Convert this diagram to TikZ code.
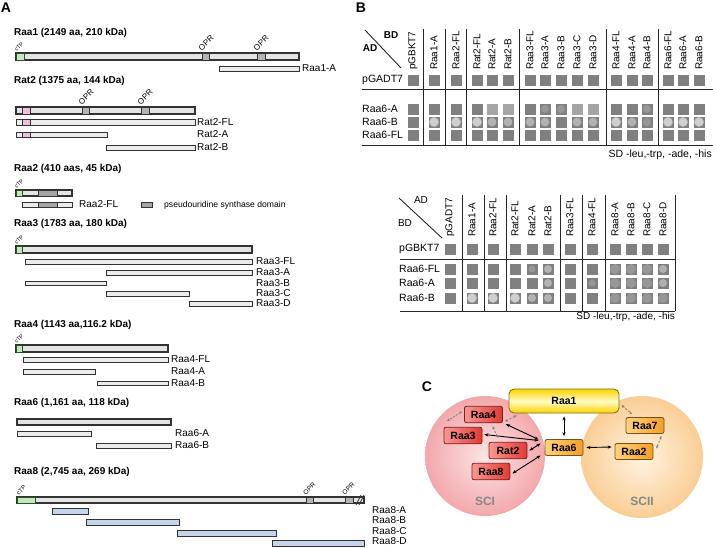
\documentclass[tikz,border=0pt]{standalone}
\usepackage{fontspec}
\setmainfont{Liberation Sans}
\usepackage{xcolor}
\usepackage{tikz}
\usetikzlibrary{arrows.meta}
\definecolor{barfill}{RGB}{228,228,228}
\definecolor{fragfill}{RGB}{236,236,236}
\definecolor{barline}{RGB}{50,50,50}
\definecolor{ctpgreen}{RGB}{196,232,190}
\definecolor{ctpline}{RGB}{40,85,40}
\definecolor{oprfill}{RGB}{180,180,180}
\definecolor{pinkdom}{RGB}{238,192,222}
\definecolor{psifill}{RGB}{165,165,165}
\definecolor{raa8blue}{RGB}{198,212,236}
\definecolor{plategray}{RGB}{128,128,128}
\definecolor{palegray}{RGB}{165,165,165}
\definecolor{colonystrong}{RGB}{208,208,208}
\definecolor{colonymid}{RGB}{178,178,178}
\definecolor{colonyfaint}{RGB}{150,150,150}
\definecolor{scipink}{RGB}{243,168,172}
\definecolor{scipale}{RGB}{252,228,228}
\definecolor{sciipeach}{RGB}{250,206,148}
\definecolor{sciipale}{RGB}{255,243,226}
\definecolor{redlight}{RGB}{250,150,145}
\definecolor{reddeep}{RGB}{226,58,52}
\definecolor{redline}{RGB}{115,35,35}
\definecolor{orangelight}{RGB}{255,212,125}
\definecolor{orangedeep}{RGB}{244,158,38}
\definecolor{orangeline}{RGB}{120,80,25}
\definecolor{yellowdeep}{RGB}{250,212,0}
\definecolor{yellowlight}{RGB}{255,250,195}
\definecolor{yellowline}{RGB}{125,110,20}
\definecolor{sctext}{RGB}{135,135,135}

\begin{document}
\begin{tikzpicture}[x=1pt,y=-1pt,
    panellbl/.style={inner sep=0pt,font=\fontsize{14}{14}\selectfont\bfseries},
    prottitle/.style={anchor=west,inner sep=0pt,font=\fontsize{10}{10}\selectfont\bfseries},
    fraglbl/.style={anchor=west,inner sep=0pt,font=\fontsize{10}{10}\selectfont},
    tiltlbl/.style={anchor=south west,rotate=45,inner sep=0pt,font=\fontsize{8}{8}\selectfont},
    ctplbl/.style={tiltlbl,font=\fontsize{5.5}{5.5}\selectfont},
    mainbar/.style={fill=barfill,draw=barline,line width=1.1pt},
    fragbar/.style={fill=fragfill,draw=barline,line width=0.9pt},
    bluebar/.style={fill=raa8blue,draw=barline,line width=0.9pt},
    ctpbox/.style={fill=ctpgreen,draw=ctpline,line width=0.8pt},
    oprbox/.style={fill=oprfill,draw=barline,line width=0.8pt},
    pinkbox/.style={fill=pinkdom,draw=barline,line width=0.8pt},
    psibox/.style={fill=psifill,draw=barline,line width=0.8pt},
    gridline/.style={draw=black!85,line width=0.9pt},
    colhead/.style={rotate=90,anchor=west,inner sep=0pt,font=\fontsize{10}{10}\selectfont},
    rowhead/.style={anchor=west,inner sep=0pt,font=\fontsize{10.5}{10.5}\selectfont},
    cornerlbl/.style={inner sep=0pt,font=\fontsize{10}{10}\selectfont\bfseries},
    medialbl/.style={inner sep=0pt,font=\fontsize{10.5}{10.5}\selectfont},
    plate/.style={fill=plategray},
    paleplate/.style={fill=palegray},
    colony/.style={fill=colonystrong,draw=colonymid,line width=0.4pt},
    midcolony/.style={fill=colonymid},
    weakcolony/.style={fill=colonyfaint},
    redbox/.style={draw=redline,line width=0.8pt,rounded corners=2pt,left color=redlight,right color=reddeep,
        minimum width=38pt,minimum height=16.5pt,inner sep=0pt,font=\fontsize{10.5}{10.5}\selectfont\bfseries},
    orbox/.style={draw=orangeline,line width=0.8pt,rounded corners=2pt,left color=orangelight,right color=orangedeep,
        minimum width=38pt,minimum height=16pt,inner sep=0pt,font=\fontsize{10.5}{10.5}\selectfont\bfseries},
    yelbox/.style={draw=yellowline,line width=0.8pt,rounded corners=5pt,top color=yellowdeep,bottom color=yellowdeep,
        middle color=yellowlight,minimum width=110pt,minimum height=24pt,inner sep=0pt,font=\fontsize{10.5}{10.5}\selectfont\bfseries},
    sclbl/.style={inner sep=0pt,text=sctext,font=\fontsize{12}{12}\selectfont\bfseries},
    bind/.style={{Stealth[length=4pt,width=3.2pt]}-{Stealth[length=4pt,width=3.2pt]},black,line width=0.9pt},
    maybe/.style={{Stealth[length=3pt,width=2.6pt]}-{Stealth[length=3pt,width=2.6pt]},gray,line width=0.8pt,dash pattern=on 2pt off 1.5pt}
]
\useasboundingbox (0,0) rectangle (713,547);

% ---------------- Panel A: domain maps ----------------
\node[panellbl] (labA) at (6,8) {A};

% Raa1
\node[prottitle] (tRaa1) at (14,33) {Raa1 (2149 aa, 210 kDa)};
\draw[mainbar] (16,53) rectangle (299,60);
\draw[ctpbox] (16,53) rectangle (24,60);
\draw[oprbox] (202,53) rectangle (209,60);
\draw[oprbox] (257,53) rectangle (265,60);
\node[ctplbl] (cRaa1) at (17,52) {cTP};
\node[tiltlbl] (oaRaa1) at (202,51.5) {OPR};
\node[tiltlbl] (obRaa1) at (257,51.5) {OPR};
\draw[fragbar] (219,66) rectangle (299,71);
\node[fraglbl] (fRaa1A) at (302,68.5) {Raa1-A};

% Rat2
\node[prottitle] (tRat2) at (14,81) {Rat2 (1375 aa, 144 kDa)};
\draw[mainbar] (16,107) rectangle (195,114);
\draw[pinkbox] (22,107) rectangle (30,114);
\draw[oprbox] (82,107) rectangle (89,114);
\draw[oprbox] (141,107) rectangle (149,114);
\node[tiltlbl] (oaRat2) at (82,105.5) {OPR};
\node[tiltlbl] (obRat2) at (141,105.5) {OPR};
\draw[fragbar] (16,119) rectangle (195,125);
\draw[pinkbox] (22,119) rectangle (30,125);
\node[fraglbl] (fRat2FL) at (197,122) {Rat2-FL};
\draw[fragbar] (16,132) rectangle (107,137);
\draw[pinkbox] (22,132) rectangle (30,137);
\node[fraglbl] (fRat2A) at (197,134.5) {Rat2-A};
\draw[fragbar] (106,145) rectangle (195,150);
\node[fraglbl] (fRat2B) at (197,147.5) {Rat2-B};

% Raa2
\node[prottitle] (tRaa2) at (14,169) {Raa2 (410 aas, 45 kDa)};
\draw[mainbar] (16,190) rectangle (72,196);
\draw[ctpbox] (16,190) rectangle (22,196);
\draw[psibox] (38,190) rectangle (57,196);
\node[ctplbl] (cRaa2) at (17,189) {cTP};
\draw[fragbar] (22,202) rectangle (72,207);
\draw[psibox] (38,202) rectangle (57,207);
\node[fraglbl] (fRaa2FL) at (79,204.5) {Raa2-FL};
\draw[psibox] (141,202) rectangle (152,207);
\node[anchor=west,inner sep=0pt,font=\fontsize{8.6}{8.6}\selectfont] (psiKey) at (164,205) {pseudouridine synthase domain};

% Raa3
\node[prottitle] (tRaa3) at (14,224) {Raa3 (1783 aa, 180 kDa)};
\draw[mainbar] (16,246) rectangle (252,253);
\draw[ctpbox] (16,246) rectangle (22,253);
\node[ctplbl] (cRaa3) at (17,245) {cTP};
\foreach \xa/\ya/\xb/\yb/\name [count=\i] in {25/259/252/264/Raa3-FL,106/270/252/275/Raa3-A,
    25/281/106/285/Raa3-B,106/291/189/296/Raa3-C,189/301/252/306/Raa3-D} {
  \draw[fragbar] (\xa,\ya) rectangle (\xb,\yb);
  \node[fraglbl] (fRaa3\i) at (256,{(\ya+\yb)/2}) {\name};
}

% Raa4
\node[prottitle] (tRaa4) at (14,325) {Raa4 (1143 aa,116.2 kDa)};
\draw[mainbar] (16,345) rectangle (168,352);
\draw[ctpbox] (16,345) rectangle (22,352);
\node[ctplbl] (cRaa4) at (17,344) {cTP};
\foreach \xa/\ya/\xb/\yb/\name [count=\i] in {23/357/168/362/Raa4-FL,23/369/95/374/Raa4-A,97/381/168/385/Raa4-B} {
  \draw[fragbar] (\xa,\ya) rectangle (\xb,\yb);
  \node[fraglbl] (fRaa4\i) at (171,{(\ya+\yb)/2}) {\name};
}

% Raa6
\node[prottitle] (tRaa6) at (14,403) {Raa6 (1,161 aa, 118 kDa)};
\draw[mainbar] (17,419) rectangle (171,425);
\foreach \xa/\ya/\xb/\yb/\name [count=\i] in {17/431/91/436/Raa6-A,96/443/171/448/Raa6-B} {
  \draw[fragbar] (\xa,\ya) rectangle (\xb,\yb);
  \node[fraglbl] (fRaa6\i) at (175,{(\ya+\yb)/2}) {\name};
}

% Raa8
\node[prottitle] (tRaa8) at (14,472) {Raa8 (2,745 aa, 269 kDa)};
\draw[mainbar] (17,497) rectangle (364,503);
\draw[ctpbox] (17,497) rectangle (35,503);
\draw[oprbox] (306,497) rectangle (313,503);
\draw[oprbox] (345,497) rectangle (353,503);
\draw[barline,line width=0.7pt] (356,505) -- (361,495) (359,505) -- (364,495);
\node[ctplbl,font=\fontsize{6}{6}\selectfont] (cRaa8) at (19,495.5) {cTP};
\node[tiltlbl,font=\fontsize{6.5}{6.5}\selectfont] (oaRaa8) at (306,495.5) {OPR};
\node[tiltlbl,font=\fontsize{6.5}{6.5}\selectfont] (obRaa8) at (345,495.5) {OPR};
\foreach \xa/\ya/\xb/\yb/\name/\ly [count=\i] in {52/508/88/514/Raa8-A/510,86/519/179/525/Raa8-B/520.5,
    177/530/276/536/Raa8-C/531,272/540/364/546/Raa8-D/541} {
  \draw[bluebar] (\xa,\ya) rectangle (\xb,\yb);
  \node[fraglbl] (fRaa8\i) at (372,\ly) {\name};
}

% ---------------- Panel B: yeast two-hybrid ----------------
\node[panellbl] (labB) at (361,8) {B};

% Screen 1: BD constructs vs AD-Raa6
\draw[gridline] (365,30) -- (401,68);
\node[cornerlbl] (bdTop) at (391,35) {BD};
\node[cornerlbl] (adTop) at (370,48) {AD};
\foreach \x/\name [count=\i] in {413/pGBKT7,434/Raa1-A,456/Raa2-FL,477/Rat2-FL,492/Rat2-A,508/Rat2-B,
    530/Raa3-FL,545/Raa3-A,561/Raa3-B,577/Raa3-C,593/Raa3-D,616/Raa4-FL,632/Raa4-A,647/Raa4-B,
    668/Raa6-FL,683/Raa6-A,699/Raa6-B} {
  \node[colhead] (tcol\i) at (\x,70) {\name};
  \foreach \y in {80,109,122,135}
    \fill[plate] (\x-5.5,\y-5.5) rectangle (\x+5.5,\y+5.5);
}
\foreach \y/\name [count=\i] in {80/pGADT7,109/Raa6-A,122/Raa6-B,135/Raa6-FL}
  \node[rowhead] (trow\i) at (362,\y) {\name};
\draw[gridline] (362,89) -- (713,89);
\draw[gridline] (362,145) -- (713,145);
\foreach \x in {423,445,466,519,606,658}
  \draw[gridline] (\x,29) -- (\x,145);
\foreach \x in {492,508,577,593}
  \fill[paleplate] (\x-5.5,103.5) rectangle (\x+5.5,114.5);
\foreach \x/\y in {545/109,561/109,647/109,647/122}
  \fill[weakcolony] (\x,\y) circle (4.2pt);
\foreach \x in {492,508,530,545,577,593,632}
  \fill[midcolony] (\x,122) circle (4.4pt);
\foreach \x in {434,456,477,616,668,683,699}
  \draw[colony] (\x,122) circle (4.7pt);
\node[medialbl,anchor=east] (sdTop) at (712,155) {SD -leu,-trp, -ade, -his};

% Screen 2: AD constructs vs BD-Raa6
\draw[gridline] (399,198) -- (442,238);
\node[cornerlbl,font=\fontsize{10}{10}\selectfont] (adBot) at (421,200) {AD};
\node[cornerlbl,font=\fontsize{10}{10}\selectfont] (bdBot) at (405,223) {BD};
\foreach \x/\name [count=\i] in {450/pGADT7,472/Raa1-A,493/Raa2-FL,515/Rat2-FL,532/Rat2-A,548/Rat2-B,
    570/Raa3-FL,592/Raa4-FL,615/Raa8-A,631/Raa8-B,647/Raa8-C,663/Raa8-D} {
  \node[colhead] (bcol\i) at (\x,237) {\name};
  \foreach \y in {249,269,283,298}
    \fill[plate] (\x-5.5,\y-5.5) rectangle (\x+5.5,\y+5.5);
}
\foreach \y/\name [count=\i] in {249/pGBKT7,269/Raa6-FL,283/Raa6-A,298/Raa6-B}
  \node[rowhead] (brow\i) at (399,\y) {\name};
\draw[gridline] (400,259) -- (675,259);
\draw[gridline] (400,311) -- (675,311);
\foreach \x in {462,484,506,560,582,605,675}
  \draw[gridline] (\x,195) -- (\x,311);
\foreach \x/\y in {615/269,631/269,647/269,615/283,631/283,647/283,615/298,631/298,647/298,663/298}
  \fill[weakcolony] (\x,\y) circle (5pt);
\foreach \x/\y in {592/283,532/269}
  \fill[weakcolony] (\x,\y) circle (3.5pt);
\foreach \x/\y in {663/269,663/283,548/269,548/283,548/298,532/298}
  \fill[midcolony] (\x,\y) circle (4pt);
\foreach \x in {472,493,515}
  \draw[colony] (\x,298) circle (4.7pt);
\node[medialbl,anchor=east,font=\fontsize{10}{10}\selectfont] (sdBot) at (675,317) {SD -leu,-trp, -ade, -his};

% ---------------- Panel C: subcomplexes ----------------
\node[panellbl] (labC) at (427,387) {C};
\shade[inner color=scipale,outer color=scipink] (485,456) circle (60pt);
\shade[inner color=sciipale,outer color=sciipeach] (642,457) circle (61pt);
\node[sclbl] (sci) at (485,501) {SCI};
\node[sclbl] (scii) at (642,501) {SCII};

\node[yelbox] (raa1) at (564,401) {Raa1};
\node[orbox] (raa6) at (564,447.5) {Raa6};
\node[orbox] (raa2) at (634,451.5) {Raa2};
\node[orbox] (raa7) at (645,425.5) {Raa7};
\node[redbox] (raa4) at (483.5,414.5) {Raa4};
\node[redbox] (raa3) at (463,435.5) {Raa3};
\node[redbox] (rat2) at (508,450.5) {Rat2};
\node[redbox] (raa8) at (491,471.5) {Raa8};
\coordinate (sciedge) at (447,421);

% interactions found
\draw[bind] ([yshift=-3pt]raa1.south) -- ([yshift=3pt]raa6.north);
\draw[bind] ([xshift=3pt]raa6.east) -- ([xshift=-3pt,yshift=4.5pt]raa2.west);
\draw[bind] ([xshift=3pt,yshift=-1pt]raa4.south east) -- ([xshift=-6pt,yshift=8pt]raa6.west);
\draw[bind] ([xshift=2pt,yshift=1pt]raa3.east) -- ([xshift=-6pt,yshift=7pt]raa6.west);
\draw[bind] ([xshift=2pt]rat2.east) -- ([xshift=-4pt,yshift=4pt]raa6.west);
\draw[bind] ([xshift=2pt,yshift=-2pt]raa8.east) -- ([xshift=-4pt,yshift=-8pt]raa6.west);

% interactions reported before
\draw[maybe] ([xshift=-2pt,yshift=3pt]raa4.west) -- (sciedge);
\draw[maybe] ([xshift=2pt,yshift=-7pt]raa4.east) -- ([xshift=8pt,yshift=-2pt]raa1.south west);
\draw[maybe] ([xshift=9pt,yshift=-3pt]raa4.south) -- ([xshift=-10pt,yshift=4pt]rat2.north);
\draw[maybe] ([xshift=2pt,yshift=-4pt]raa1.east) -- ([xshift=-13pt,yshift=3pt]raa7.north);
\draw[maybe] ([xshift=-3pt,yshift=-2pt]raa7.south east) -- ([xshift=3pt,yshift=3pt]raa2.east);
\end{tikzpicture}
\end{document}
